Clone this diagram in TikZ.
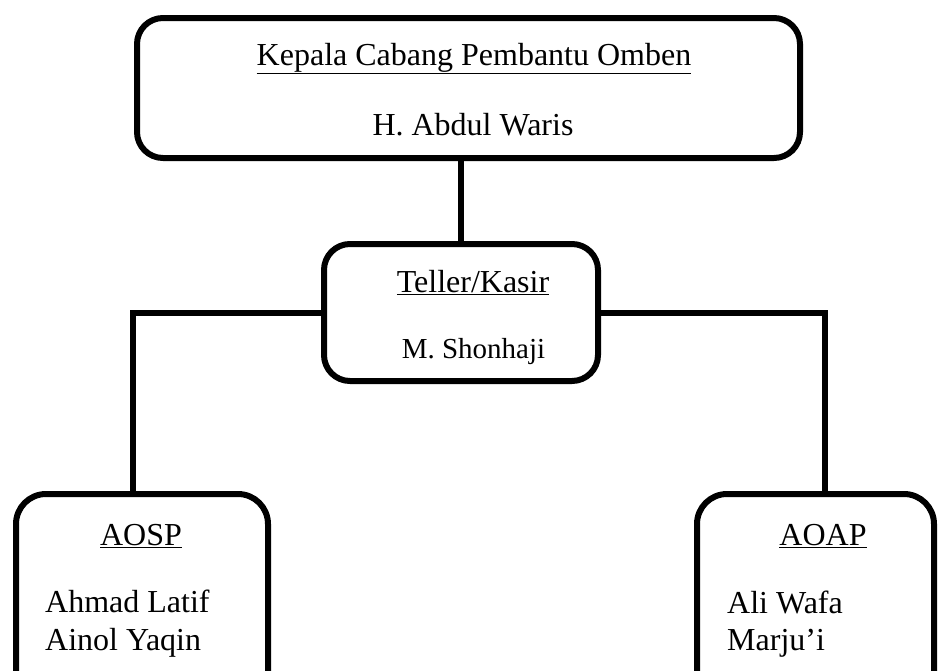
\documentclass[tikz,border=0pt]{standalone}
\usepackage{fontspec}
\setmainfont{Liberation Serif}
\tikzset{
  box/.style={draw=black, line width=6pt, rounded corners=26pt, inner sep=0pt, fill=none},
  conn/.style={draw=black, line width=6pt},
  big/.style={font=\fontsize{32}{38}\selectfont, inner sep=0pt},
  mid/.style={font=\fontsize{29}{35}\selectfont, inner sep=0pt}
}
\begin{document}
\begin{tikzpicture}[x=1pt,y=-1pt]
\useasboundingbox (0,0) rectangle (939,670);
\clip (0,0) rectangle (939,670);
% boxes
\node[box, minimum width=663pt, minimum height=140pt] (top) at (468.5,88) {};
\node[box, minimum width=274pt, minimum height=137pt] (teller) at (461,312.5) {};
\node[box, minimum width=252pt, minimum height=210pt, rounded corners=30pt] (aosp) at (142,599) {};
\node[box, minimum width=237pt, minimum height=210pt, rounded corners=30pt] (aoap) at (815.5,599) {};
% connectors
\draw[conn] (teller.north |- top.south) -- (teller.north);
\draw[conn] (teller.west) -| ([xshift=-9pt]aosp.north);
\draw[conn] (teller.east) -| ([xshift=9.5pt]aoap.north);
% texts
\node[big, anchor=base] (t1) at (474,65) {\underline{Kepala Cabang Pembantu Omben}};
\node[big, anchor=base] (t2) at (473,135) {H. Abdul Waris};
\node[big, anchor=base] (t3) at (473,292) {\underline{Teller/Kasir}};
\node[mid, anchor=base] (t4) at (473.5,358) {M. Shonhaji};
\node[big, anchor=base] (t5) at (141,545) {\underline{AOSP}};
\node[big, anchor=base west] (t6) at (45,612) {Ahmad Latif};
\node[big, anchor=base west] (t7) at (45,650) {Ainol Yaqin};
\node[big, anchor=base] (t8) at (823,545) {\underline{AOAP}};
\node[big, anchor=base west] (t9) at (727,613) {Ali Wafa};
\node[big, anchor=base west] (t10) at (727,650) {Marju’i};
\end{tikzpicture}
\end{document}
